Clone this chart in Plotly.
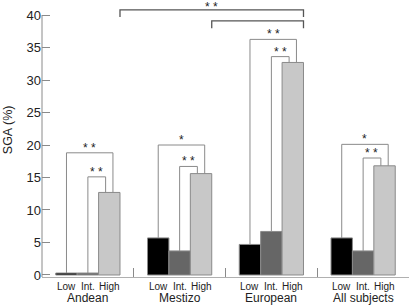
import plotly.graph_objects as go

groups = ["Andean", "Mestizo", "European", "All subjects"]
levels = ["Low", "Int.", "High"]
low = [0.3, 5.7, 4.7, 5.7]
intermediate = [0.3, 3.7, 6.7, 3.7]
high = [12.7, 15.6, 32.7, 16.8]

# within-group brackets: (outer Low-High height, label), (inner Int-High height, label)
outer_h = [18.8, 20.0, 36.25, 20.1]
outer_lbl = ["* *", "*", "* *", "*"]
inner_h = [15.1, 16.7, 33.6, 18.0]
inner_lbl = ["* *", "* *", "* *", "* *"]

# between-group brackets (High of group a vs High of group b)
top_pairs = [(0, 2, 40.8, 39.7, "* *"), (1, 2, 39.1, 37.95, "")]

colors = ["#000000", "#666666", "#c8c8c8"]
series = [low, intermediate, high]

fig = go.Figure()
for name, vals, c in zip(levels, series, colors):
    fig.add_trace(go.Bar(x=groups, y=vals, name=name, marker_color=c,
                         marker_line_color="#8a8a8a", marker_line_width=1,
                         hoverinfo="skip"))

bargap = 0.30
w = (1 - bargap) / 3
line_c = "#8a8a8a"
shapes = []
ann = []

def bracket(x0, y0, x1, y1, h, color, width):
    shapes.append(dict(type="path", xref="x", yref="y",
                       path=f"M {x0},{y0} L {x0},{h} L {x1},{h} L {x1},{y1}",
                       line=dict(color=color, width=width)))

for i in range(len(groups)):
    xl, xm, xh = i - w, i, i + w
    bracket(xm, intermediate[i], xh - 0.04, high[i], inner_h[i], line_c, 1)
    bracket(xl, low[i], xh + 0.04, high[i], outer_h[i], line_c, 1)
    for h, lbl, xa, xb in [(inner_h[i], inner_lbl[i], xm, xh - 0.04),
                           (outer_h[i], outer_lbl[i], xl, xh + 0.04)]:
        ann.append(dict(x=(xa + xb) / 2, y=h, xref="x", yref="y", text=lbl,
                        showarrow=False, yanchor="bottom", yshift=-4,
                        font=dict(size=12, color="#222")))
    for k, lv in enumerate(levels):
        ann.append(dict(x=i + (k - 1) * w, y=0, xref="x", yref="paper", text=lv,
                        showarrow=False, yanchor="middle", yshift=-9,
                        font=dict(size=10, color="#222")))
    ann.append(dict(x=i, y=0, xref="x", yref="paper", text=groups[i],
                    showarrow=False, yanchor="middle", yshift=-21,
                    font=dict(size=12, color="#222")))

half = (1 - bargap) / 2
for a, b, h, leg, lbl in top_pairs:
    bracket(a + half, leg, b + half, leg, h, "#555555", 1.3)
    if lbl:
        ann.append(dict(x=(a + b) / 2 + half, y=1, xref="x", yref="paper", text=lbl,
                        showarrow=False, yanchor="top", yshift=2,
                        font=dict(size=12, color="#222")))

# y axis line only spanning the 0-40 range
shapes.append(dict(type="line", xref="paper", yref="y", x0=0, x1=0, y0=-0.31, y1=40,
                   line=dict(color="#8a8a8a", width=1)))

ann.append(dict(x=0, xref="paper", xanchor="center", xshift=-34, y=0.53, yref="paper",
                text="SGA (%)", textangle=-90, showarrow=False,
                font=dict(size=12.5, color="#222")))

fig.update_layout(
    width=409, height=306,
    margin=dict(l=42, r=0, t=0, b=29),
    barmode="group", bargap=bargap, bargroupgap=0,
    showlegend=False, hovermode=False,
    plot_bgcolor="white", paper_bgcolor="white",
    font=dict(family="Liberation Sans, Arial, sans-serif", color="#222"),
    shapes=shapes, annotations=ann,
)
fig.update_xaxes(showticklabels=False, showline=True, linecolor="#b0b0b0", linewidth=1,
                 ticks="inside", tickson="boundaries", ticklen=9, tickcolor="#8a8a8a",
                 showgrid=False, range=[-0.5, 3.5], zeroline=False)
fig.update_yaxes(range=[-0.31, 42.31], tickvals=[0, 5, 10, 15, 20, 25, 30, 35, 40],
                 ticks="inside", ticklen=8, tickcolor="#8a8a8a", showline=False,
                 showgrid=False, zeroline=False, tickfont=dict(size=13, color="#222"))

fig.write_html("out.html", config={"displayModeBar": False},
               post_script="document.body.style.margin='0';")
